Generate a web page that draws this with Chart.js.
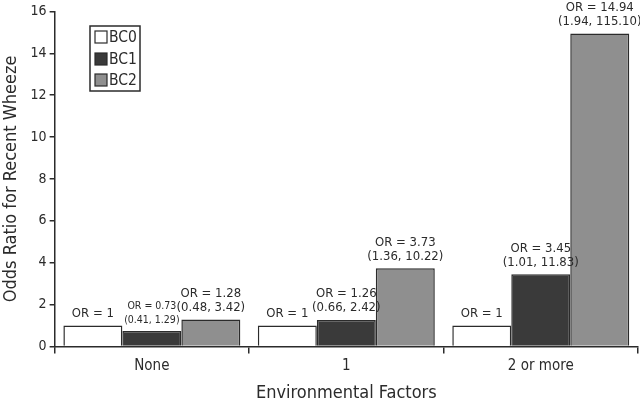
<!DOCTYPE html>
<html>
<head>
<meta charset="utf-8">
<script src="https://cdn.jsdelivr.net/npm/chart.js@4"></script>
<style>
  html, body { margin: 0; padding: 0; background: #fff; }
  #wrap { width: 640px; height: 404px; position: relative; }
</style>
</head>
<body>
<div id="wrap"><canvas id="chart"></canvas></div>
<script>
const categories = ['None', '1', '2 or more'];
const seriesNames = ['BC0', 'BC1', 'BC2'];
const bc0 = [1, 1, 1];
const bc1 = [0.73, 1.26, 3.45];
const bc2 = [1.28, 3.73, 14.94];

// label text above each bar (line 1, line 2)
const bc0Labels = [['OR = 1'], ['OR = 1'], ['OR = 1']];
const bc1Labels = [['OR = 0.73', '(0.41, 1.29)'], ['OR = 1.26', '(0.66, 2.42)'], ['OR = 3.45', '(1.01, 11.83)']];
const bc2Labels = [['OR = 1.28', '(0.48, 3.42)'], ['OR = 3.73', '(1.36, 10.22)'], ['OR = 14.94', '(1.94, 115.10)']];

const fontFam = "'Liberation Sans Narrow', 'DejaVu Sans Condensed', 'Open Sans', sans-serif";
const ink = '#2b2b2b';
const fills = ['#ffffff', '#3a3a3a', '#8f8f8f'];

const orLabels = {
  id: 'orLabels',
  afterDatasetsDraw(chart) {
    const ctx = chart.ctx;
    const all = [bc0Labels, bc1Labels, bc2Labels];
    ctx.save();
    ctx.fillStyle = ink;
    ctx.textAlign = 'center';
    ctx.textBaseline = 'middle';
    all.forEach((labs, di) => {
      const meta = chart.getDatasetMeta(di);
      meta.data.forEach((bar, j) => {
        const lines = labs[j];
        const small = (di === 1 && j === 0);
        ctx.font = (small ? '10.5px ' : '13px ') + fontFam;
        const gap = 14;
        const base = bar.y - (small ? 11 : 12);
        for (let k = 0; k < lines.length; k++) {
          const y = base - (lines.length - 1 - k) * gap;
          ctx.fillText(lines[k], bar.x, y);
        }
      });
    });
    ctx.restore();
  }
};

const boxLegend = {
  id: 'boxLegend',
  afterDraw(chart) {
    const ctx = chart.ctx;
    ctx.save();
    ctx.strokeStyle = ink;
    ctx.lineWidth = 1.5;
    ctx.fillStyle = '#fff';
    ctx.fillRect(90, 26, 50, 65);
    ctx.strokeRect(90, 26, 50, 65);
    const ys = [37, 59, 80];
    ctx.font = '15.5px ' + fontFam;
    ctx.textBaseline = 'middle';
    seriesNames.forEach((n, i) => {
      ctx.fillStyle = fills[i];
      ctx.fillRect(95, ys[i] - 6, 12, 12);
      ctx.lineWidth = 1.2;
      ctx.strokeRect(95, ys[i] - 6, 12, 12);
      ctx.fillStyle = ink;
      ctx.fillText(n, 109, ys[i] + 1);
    });
    ctx.restore();
  }
};

new Chart(document.getElementById('chart'), {
  type: 'bar',
  data: {
    labels: categories,
    datasets: [bc0, bc1, bc2].map((d, i) => ({
      label: seriesNames[i],
      data: d,
      backgroundColor: fills[i],
      borderColor: ink,
      borderWidth: 1.5,
      borderSkipped: 'bottom',
      categoryPercentage: 0.91,
      barPercentage: 1
    }))
  },
  options: {
    responsive: true,
    maintainAspectRatio: false,
    animation: false,
    layout: { padding: { top: 3, right: 2, left: 1, bottom: 0 } },
    plugins: {
      legend: { display: false },
      tooltip: { enabled: false }
    },
    scales: {
      x: {
        grid: { display: true, drawOnChartArea: false, offset: true, tickLength: 7, color: ink, lineWidth: 1.5 },
        border: { display: true, color: ink, width: 1.5 },
        ticks: { color: ink, font: { family: fontFam, size: 15 }, padding: 4 },
        title: { display: true, text: 'Environmental Factors', color: ink, font: { family: fontFam, size: 18 }, padding: { top: 3, bottom: 0 } }
      },
      y: {
        min: 0,
        max: 16,
        ticks: { stepSize: 2, color: ink, font: { family: fontFam, size: 14 }, padding: 3 },
        grid: { display: true, drawOnChartArea: false, tickLength: 5, color: ink, lineWidth: 1.5 },
        border: { display: true, color: ink, width: 1.5 },
        title: { display: true, text: 'Odds Ratio for Recent Wheeze', color: ink, font: { family: fontFam, size: 18 }, padding: { top: 0, bottom: 5 } }
      }
    }
  },
  plugins: [orLabels, boxLegend]
});
</script>
</body>
</html>
